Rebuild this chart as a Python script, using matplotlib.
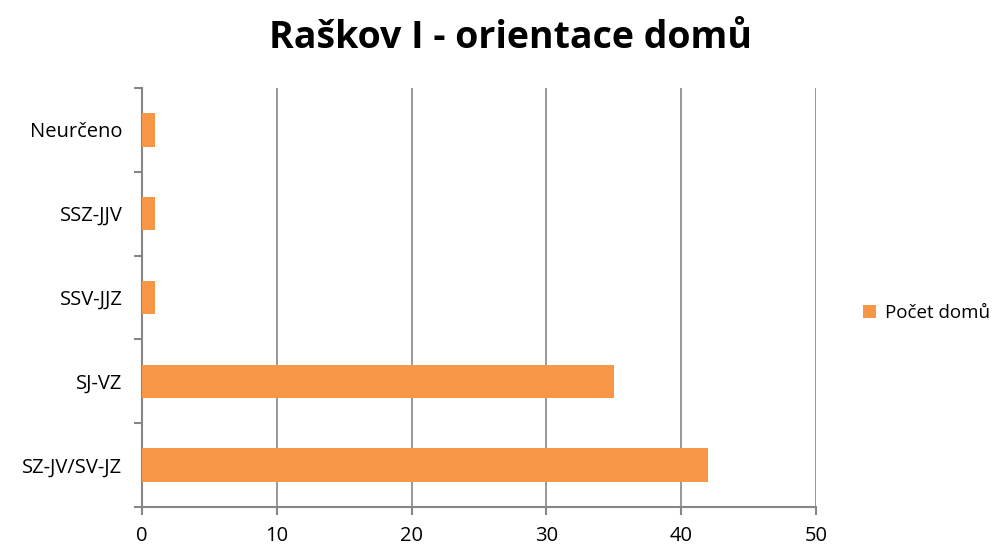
import matplotlib
matplotlib.use("Agg")
import matplotlib.pyplot as plt
import numpy as np

categories = ["SZ-JV/SV-JZ", "SJ-VZ", "SSV-JJZ", "SSZ-JJV", "Neurčeno"]
values = [42, 35, 1, 1, 1]
series_name = "Počet domů"
title = "Raškov I - orientace domů"
xticks = [0, 10, 20, 30, 40, 50]

plt.rcParams["font.family"] = ["Open Sans", "DejaVu Sans"]
axis_col = "#868686"
bar_col = "#F79646"

fig = plt.figure(figsize=(10.04, 5.47), dpi=100)
ax = fig.add_axes([0.1414, 0.0731, 0.6713, 0.766])

pos = np.arange(len(categories))
ax.barh(pos, values, height=0.4, color=bar_col, label=series_name, zorder=3)

ax.set_xlim(0, 50)
ax.set_ylim(-0.5, len(categories) - 0.5)
ax.set_xticks(xticks)
ax.set_xticklabels([str(t) for t in xticks], fontsize=14.5)
ax.grid(axis="x", color=axis_col, linewidth=1.2, zorder=0)

# boundary ticks on the y axis, labels at category centres
ax.set_yticks(np.arange(-0.5, len(categories), 1.0))
ax.set_yticklabels([])
ax.set_yticks(pos, minor=True)
ax.set_yticklabels(categories, minor=True, fontsize=14.5)
ax.tick_params(axis="y", which="minor", length=0, pad=14)
ax.tick_params(axis="y", which="major", length=6, color=axis_col, width=1.5, direction="out")
ax.tick_params(axis="x", length=6, color=axis_col, width=1.5, direction="out", pad=8)

for s in ["top", "right"]:
    ax.spines[s].set_visible(False)
for s in ["left", "bottom"]:
    ax.spines[s].set_color(axis_col)
    ax.spines[s].set_linewidth(1.5)

fig.suptitle(title, fontsize=27, fontweight="bold", x=0.508, y=0.965)

fig.legend(loc="center left", bbox_to_anchor=(0.852, 0.427), frameon=False,
           fontsize=13.5, handlelength=0.7, handleheight=0.7, handletextpad=0.5,
           borderpad=0.2, borderaxespad=0.2)

fig.savefig("out.png", dpi=100)
